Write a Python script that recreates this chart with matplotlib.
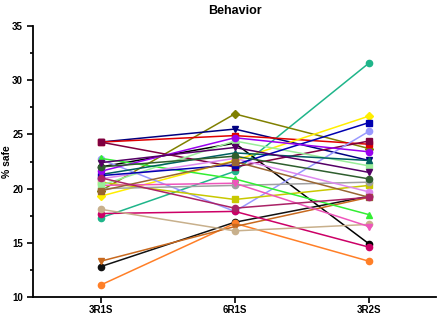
import numpy as np
import matplotlib
matplotlib.use("Agg")
import matplotlib.pyplot as plt
from matplotlib.ticker import MultipleLocator

plt.rcParams['font.family'] = ['Liberation Sans', 'DejaVu Sans']
plt.rcParams['font.weight'] = 'bold'

sessions = ["3R1S", "6R1S", "3R2S"]

# one row per animal: % safe at 3R1S, 6R1S, 3R2S
s_teal = [17.3, 21.6, 31.6]
s_black1 = [22.0, 24.2, 14.9]
s_black2 = [12.8, 16.9, 19.3]
s_orange = [11.1, 16.8, 13.3]
s_chocolate = [13.3, 16.5, 19.2]
s_olive = [19.8, 26.9, 23.7]
s_navy_tri = [24.3, 25.5, 22.6]
s_red = [24.3, 24.9, 24.1]
s_maroon = [24.3, 22.0, 24.4]
s_yellow = [19.3, 22.6, 26.7]
s_lavender = [22.7, 17.9, 25.3]
s_khaki = [20.6, 19.0, 20.3]
s_gray = [20.0, 20.3, 20.6]
s_green = [22.8, 20.9, 17.6]
s_orchid = [20.9, 22.8, 19.7]
s_crimson = [17.7, 17.9, 14.6]
s_tan = [18.1, 16.1, 16.7]
s_pink = [20.3, 20.5, 16.5]
s_lightgreen = [20.3, 24.4, 22.1]
s_darkteal = [21.3, 23.3, 22.6]
s_navy_sq = [21.2, 22.2, 26.1]
s_purple = [21.6, 24.7, 23.4]
s_darkgreen = [22.0, 23.0, 20.9]
s_brown = [19.8, 22.5, 19.2]
s_plum = [21.0, 18.2, 19.2]
s_darkpurple = [22.4, 23.8, 21.5]

series = [
    (s_teal, '#1fb58a', 'o'),
    (s_black1, '#000000', 'o'),
    (s_black2, '#111111', 'o'),
    (s_orange, '#ff7f27', 'o'),
    (s_chocolate, '#c8691e', 'v'),
    (s_olive, '#808000', 'D'),
    (s_navy_tri, '#000080', 'v'),
    (s_red, '#e00000', 's'),
    (s_maroon, '#800040', 's'),
    (s_yellow, '#ffee00', 'D'),
    (s_lavender, '#9999ff', 'o'),
    (s_khaki, '#c8c800', 's'),
    (s_gray, '#a0a0a0', 'o'),
    (s_green, '#33ee33', '^'),
    (s_orchid, '#dd88ee', 'o'),
    (s_crimson, '#cc0066', 'o'),
    (s_tan, '#c8b08c', 'o'),
    (s_pink, '#ee55bb', 'v'),
    (s_lightgreen, '#99ee99', 's'),
    (s_darkteal, '#006060', '^'),
    (s_navy_sq, '#0000b0', 's'),
    (s_purple, '#9900ee', 'o'),
    (s_darkgreen, '#2e5e2e', 'o'),
    (s_brown, '#996633', 's'),
    (s_plum, '#aa2266', 'o'),
    (s_darkpurple, '#550066', 'v'),
]

fig = plt.figure(figsize=(4.46, 3.19), dpi=100)
ax = fig.add_axes([0.075, 0.069, 0.903, 0.849])

x = np.arange(len(sessions))
for vals, col, mk in series:
    ax.plot(x, vals, color=col, marker=mk, markersize=4.5, linewidth=1.1)

ax.set_xlim(-0.5, 2.5)
ax.set_ylim(10, 35)
ax.set_xticks(x)
ax.set_xticklabels(sessions, fontsize=7, fontweight='bold')
ax.yaxis.set_major_locator(MultipleLocator(5))
ax.yaxis.set_minor_locator(MultipleLocator(2.5))
ax.tick_params(axis='y', labelsize=7, width=1.2, length=4)
ax.tick_params(axis='y', which='minor', width=1.2, length=2.5)
ax.tick_params(axis='x', width=1.2, length=4, pad=2)
for lab in ax.get_yticklabels():
    lab.set_fontweight('bold')
ax.spines['top'].set_visible(False)
ax.spines['right'].set_visible(False)
ax.spines['left'].set_linewidth(1.3)
ax.spines['bottom'].set_linewidth(1.3)
ax.set_ylabel("% safe", fontsize=7.5, fontweight='bold')
ax.yaxis.set_label_coords(-0.053, 0.5)
ax.set_title("Behavior", fontsize=9, fontweight='bold', pad=9)

fig.savefig("out.png", dpi=100)
